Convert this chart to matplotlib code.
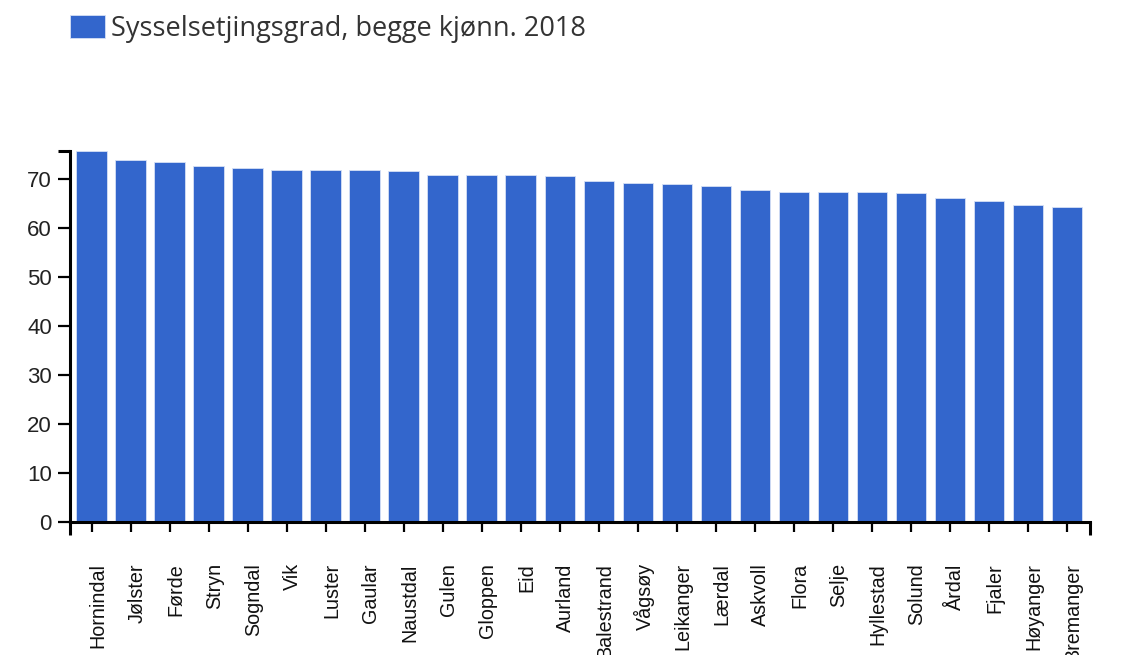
import matplotlib
matplotlib.use("Agg")
import matplotlib.pyplot as plt
import matplotlib.transforms as mtransforms

# data
kommuner = ["Hornindal", "Jølster", "Førde", "Stryn", "Sogndal", "Vik", "Luster",
            "Gaular", "Naustdal", "Gulen", "Gloppen", "Eid", "Aurland", "Balestrand",
            "Vågsøy", "Leikanger", "Lærdal", "Askvoll", "Flora", "Selje", "Hyllestad",
            "Solund", "Årdal", "Fjaler", "Høyanger", "Bremanger"]
sysselsetjingsgrad = [75.8, 74.0, 73.6, 72.7, 72.3, 72.0, 72.0,
                      71.9, 71.8, 70.9, 70.9, 70.9, 70.7, 69.7,
                      69.3, 69.1, 68.6, 67.9, 67.5, 67.5, 67.4,
                      67.3, 66.2, 65.6, 64.7, 64.3]
y_ticks = [0, 10, 20, 30, 40, 50, 60, 70]
serie_navn = "Sysselsetjingsgrad, begge kjønn. 2018"

BLUE = "#3366cc"
W, H = 1123, 655

fig = plt.figure(figsize=(W / 100, H / 100), dpi=100)
ax = fig.add_axes([70 / W, (H - 521.5) / H, 1020 / W, (521.5 - 151) / H])

x = list(range(len(kommuner)))
bars = ax.bar(x, sysselsetjingsgrad, width=0.79, color=BLUE, edgecolor="#d6e0f5",
              linewidth=0.6, label=serie_navn)

ax.set_xlim(-0.56, len(kommuner) - 1 + 0.59)
ax.set_ylim(0, max(sysselsetjingsgrad))

for s in ["top", "right"]:
    ax.spines[s].set_visible(False)
for s in ["left", "bottom"]:
    ax.spines[s].set_linewidth(2.2)
    ax.spines[s].set_color("black")

ax.set_yticks(y_ticks)
ax.set_yticklabels([str(v) for v in y_ticks], fontfamily="Liberation Sans",
                   fontsize=16, color="#222222")
ax.tick_params(axis="y", length=9, width=1.6, pad=4, color="black")

ax.set_xticks(x)
ax.set_xticklabels(kommuner, rotation=90, fontfamily="Liberation Sans",
                   fontsize=14.2, color="#111111", va="top", ha="center")
ax.tick_params(axis="x", length=7, width=1.6, pad=23, color="black")
# nudge rotated labels a little to the right, like the original
offset = mtransforms.ScaledTranslation(6 / 100, 0, fig.dpi_scale_trans)
for lab in ax.get_xticklabels():
    lab.set_transform(lab.get_transform() + offset)

# outer ticks at the axis ends
ax.set_xticks([ax.get_xlim()[0], ax.get_xlim()[1]], minor=True)
ax.tick_params(axis="x", which="minor", length=9, width=2.2, color="black")
ax.set_yticks([max(sysselsetjingsgrad)], minor=True)
ax.tick_params(axis="y", which="minor", length=9, width=2.2, color="black")

fig.legend(handles=[bars], labels=[serie_navn], loc="upper left",
           bbox_to_anchor=(70 / W, 1 - 15 / H), frameon=False,
           prop={"family": "Open Sans", "size": 19.5}, handlelength=1.3,
           handleheight=0.9, handletextpad=0.2, borderpad=0, borderaxespad=0,
           labelcolor="#333333")

fig.savefig("out.png", dpi=100)
